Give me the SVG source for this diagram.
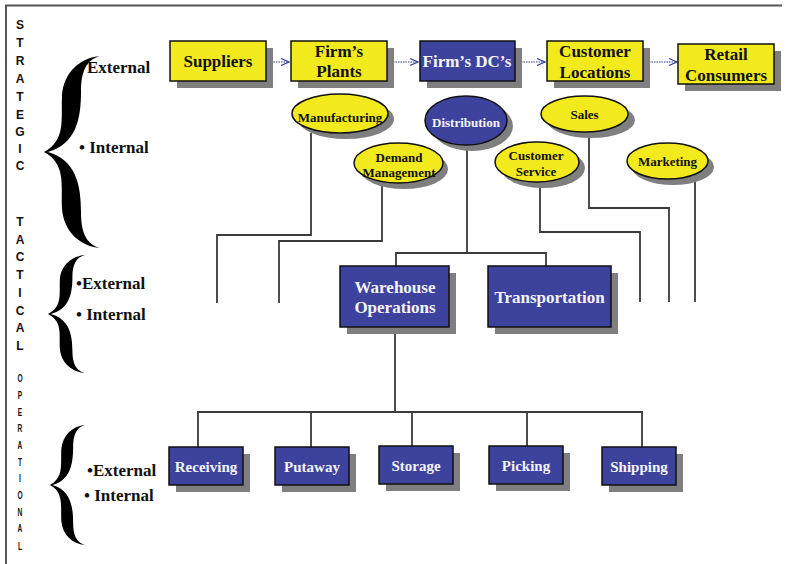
<svg xmlns="http://www.w3.org/2000/svg" width="786" height="564" viewBox="0 0 786 564">
<defs>
<marker id="arr" markerUnits="userSpaceOnUse" markerWidth="10" markerHeight="10" refX="9" refY="5" orient="auto">
<polyline points="1,1.5 9,5 1,8.5" fill="none" stroke="#2c3a9c" stroke-width="1.2"/>
</marker>
<path id="brace" d="M 56 0 C 36 2, 20 16, 18 39 C 17 64, 22 84, 0 96 C 22 108, 17 128, 18 153 C 20 176, 36 190, 56 192 C 42 188, 37 176, 37 156 C 37 129, 32 104, 4 96 C 32 88, 37 63, 37 36 C 37 16, 42 4, 56 0 Z"/>
</defs>
<style>
.sh{fill:#7f7f7f}
.yb{fill:#f2ea1c;stroke:#111;stroke-width:1.5}
.bb{fill:#3d439c;stroke:#111;stroke-width:1.5}
.t{font-family:"Liberation Serif","Times New Roman",serif;font-weight:bold;text-anchor:middle}
.tk{fill:#111}
.tw{fill:#f4f4f8}
.big{font-size:17px}
.mid{font-size:15px}
.sm{font-size:13px}
.lbl{font-family:"Liberation Serif","Times New Roman",serif;font-weight:bold;font-size:17px;fill:#111}
.vl{font-family:"Liberation Sans",Arial,sans-serif;font-weight:bold;font-size:12px;fill:#111;text-anchor:middle}
.vs{font-family:"Liberation Sans",Arial,sans-serif;font-weight:bold;font-size:11px;fill:#111;text-anchor:middle}
.ln{fill:none;stroke:#3a3a3a;stroke-width:1.8}
.ar{fill:none;stroke:#2c3a9c;stroke-width:1.2;stroke-dasharray:1.5 1;marker-end:url(#arr)}
</style>
<rect width="786" height="564" fill="#ffffff"/>
<path d="M 6 564 L 6 5.5 L 782 5.5" fill="none" stroke="#555" stroke-width="2"/>

<g id="level-labels">
<text class="vl" x="20" y="29">S</text>
<text class="vl" x="20" y="47">T</text>
<text class="vl" x="20" y="65">R</text>
<text class="vl" x="20" y="83">A</text>
<text class="vl" x="20" y="101">T</text>
<text class="vl" x="20" y="119">E</text>
<text class="vl" x="20" y="136">G</text>
<text class="vl" x="20" y="153">I</text>
<text class="vl" x="20" y="170">C</text>
<text class="vl" x="20" y="226">T</text>
<text class="vl" x="20" y="244">A</text>
<text class="vl" x="20" y="261">C</text>
<text class="vl" x="20" y="279">T</text>
<text class="vl" x="20" y="297">I</text>
<text class="vl" x="20" y="315">C</text>
<text class="vl" x="20" y="332">A</text>
<text class="vl" x="20" y="350">L</text>
<g transform="scale(0.6,1)">
<text class="vs" x="33.3" y="382">O</text>
<text class="vs" x="33.3" y="399">P</text>
<text class="vs" x="33.3" y="416">E</text>
<text class="vs" x="33.3" y="432">R</text>
<text class="vs" x="33.3" y="449">A</text>
<text class="vs" x="33.3" y="466">T</text>
<text class="vs" x="33.3" y="482">I</text>
<text class="vs" x="33.3" y="499">O</text>
<text class="vs" x="33.3" y="516">N</text>
<text class="vs" x="33.3" y="532">A</text>
<text class="vs" x="33.3" y="550">L</text>
</g>
</g>

<g id="braces" fill="#000">
<use href="#brace" transform="translate(44,56)"/>
<use href="#brace" transform="translate(48,255) scale(0.66,0.615)"/>
<use href="#brace" transform="translate(50,425) scale(0.625,0.625)"/>
</g>

<g id="scope-labels">
<text class="lbl" x="87" y="73">External</text>
<text class="lbl" x="79" y="153">• Internal</text>
<text class="lbl" x="76" y="289">•External</text>
<text class="lbl" x="76" y="320">• Internal</text>
<text class="lbl" x="87" y="476">•External</text>
<text class="lbl" x="84" y="501">• Internal</text>
</g>

<g id="connectors">
<line class="ar" x1="266" y1="62" x2="289" y2="62"/>
<line class="ar" x1="388" y1="62" x2="418" y2="62"/>
<line class="ar" x1="516" y1="62" x2="545" y2="62"/>
<line class="ar" x1="644" y1="62" x2="677" y2="62"/>
<polyline class="ln" points="311,133 311,235 217,235 217,303"/>
<polyline class="ln" points="382,183 382,241 279,241 279,303"/>
<polyline class="ln" points="467,145 467,253"/>
<polyline class="ln" points="396,266 396,253 546,253 546,266"/>
<polyline class="ln" points="540,182 540,232 640,232 640,302"/>
<polyline class="ln" points="589,132 589,208 669,208 669,302"/>
<polyline class="ln" points="695,179 695,302"/>
<polyline class="ln" points="395,327 395,412"/>
<polyline class="ln" points="198,447 198,412 642,412 642,447"/>
<line class="ln" x1="311" y1="412" x2="311" y2="447"/>
<line class="ln" x1="412" y1="412" x2="412" y2="447"/>
<line class="ln" x1="527" y1="412" x2="527" y2="447"/>
</g>

<g id="suppliers">
<rect class="sh" x="177" y="48" width="96" height="40"/>
<rect class="yb" x="170" y="41" width="96" height="40"/>
<text class="t tk big" x="218" y="67">Suppliers</text>
</g>
<g id="firms-plants">
<rect class="sh" x="298" y="48" width="96" height="40"/>
<rect class="yb" x="291" y="41" width="96" height="40"/>
<text class="t tk big" x="339" y="57">Firm’s</text>
<text class="t tk big" x="339" y="77">Plants</text>
</g>
<g id="firms-dcs">
<rect class="sh" x="427" y="48" width="95" height="40"/>
<rect class="bb" x="420" y="41" width="95" height="40"/>
<text class="t tw big" x="467" y="67">Firm’s DC’s</text>
</g>
<g id="customer-locations">
<rect class="sh" x="554" y="48" width="96" height="40"/>
<rect class="yb" x="547" y="41" width="96" height="40"/>
<text class="t tk big" x="595" y="57">Customer</text>
<text class="t tk big" x="595" y="78">Locations</text>
</g>
<g id="retail-consumers">
<rect class="sh" x="685" y="51" width="96" height="40"/>
<rect class="yb" x="678" y="44" width="96" height="40"/>
<text class="t tk big" x="726" y="60">Retail</text>
<text class="t tk big" x="726" y="81">Consumers</text>
</g>

<g id="manufacturing">
<ellipse class="sh" cx="346" cy="119" rx="48" ry="20"/>
<ellipse class="yb" cx="340" cy="113.5" rx="48" ry="19.5"/>
<text class="t tk sm" x="340" y="122">Manufacturing</text>
</g>
<g id="distribution">
<ellipse class="sh" cx="472" cy="126" rx="41" ry="25"/>
<ellipse class="bb" cx="466" cy="120.5" rx="41" ry="24.5"/>
<text class="t tw sm" x="466" y="127">Distribution</text>
</g>
<g id="demand-management">
<ellipse class="sh" cx="404" cy="169" rx="44" ry="20"/>
<ellipse class="yb" cx="398.5" cy="163" rx="44.5" ry="20"/>
<text class="t tk sm" x="399" y="162">Demand</text>
<text class="t tk sm" x="399" y="177">Management</text>
</g>
<g id="customer-service">
<ellipse class="sh" cx="543" cy="168" rx="42" ry="20"/>
<ellipse class="yb" cx="537" cy="162" rx="42" ry="20"/>
<text class="t tk sm" x="536" y="160">Customer</text>
<text class="t tk sm" x="536" y="176">Service</text>
</g>
<g id="sales">
<ellipse class="sh" cx="591" cy="120" rx="44" ry="18"/>
<ellipse class="yb" cx="584.5" cy="114" rx="43.5" ry="18"/>
<text class="t tk sm" x="584.5" y="119">Sales</text>
</g>
<g id="marketing">
<ellipse class="sh" cx="673" cy="167" rx="41" ry="18"/>
<ellipse class="yb" cx="667.5" cy="161" rx="40.5" ry="18"/>
<text class="t tk sm" x="667.5" y="166">Marketing</text>
</g>

<g id="warehouse-operations">
<rect class="sh" x="347" y="273" width="109" height="61"/>
<rect class="bb" x="340" y="266" width="109" height="61"/>
<text class="t tw big" x="395" y="293">Warehouse</text>
<text class="t tw big" x="395" y="313">Operations</text>
</g>
<g id="transportation">
<rect class="sh" x="495" y="273" width="123" height="61"/>
<rect class="bb" x="488" y="266" width="123" height="61"/>
<text class="t tw big" x="549.5" y="303">Transportation</text>
</g>

<g id="receiving">
<rect class="sh" x="176" y="454" width="74" height="38"/>
<rect class="bb" x="169" y="447" width="74" height="38"/>
<text class="t tw mid" x="206" y="472">Receiving</text>
</g>
<g id="putaway">
<rect class="sh" x="282" y="454" width="74" height="38"/>
<rect class="bb" x="275" y="447" width="74" height="38"/>
<text class="t tw mid" x="312" y="472">Putaway</text>
</g>
<g id="storage">
<rect class="sh" x="386" y="453" width="74" height="38"/>
<rect class="bb" x="379" y="446" width="74" height="38"/>
<text class="t tw mid" x="416" y="471">Storage</text>
</g>
<g id="picking">
<rect class="sh" x="496" y="453" width="74" height="38"/>
<rect class="bb" x="489" y="446" width="74" height="38"/>
<text class="t tw mid" x="526" y="471">Picking</text>
</g>
<g id="shipping">
<rect class="sh" x="609" y="454" width="74" height="38"/>
<rect class="bb" x="602" y="447" width="74" height="38"/>
<text class="t tw mid" x="639" y="472">Shipping</text>
</g>
</svg>
